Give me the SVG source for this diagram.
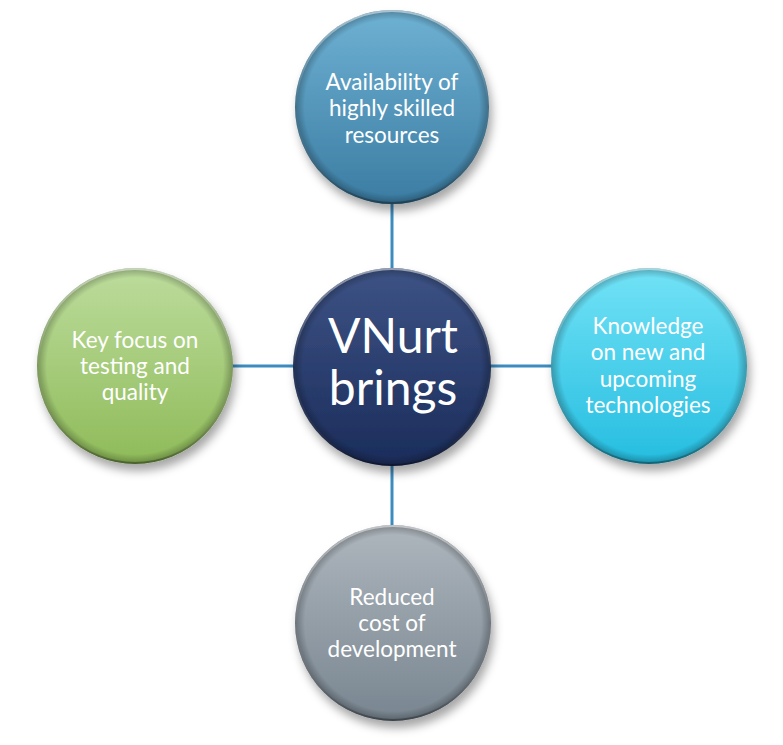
<svg xmlns="http://www.w3.org/2000/svg" width="783" height="745" viewBox="0 0 783 745">
<defs>
<linearGradient id="gTop" x1="0" y1="0" x2="0" y2="1"><stop offset="0" stop-color="#6eb1d3"/><stop offset="1" stop-color="#3b7ca2"/></linearGradient>
<linearGradient id="gCen" x1="0" y1="0" x2="0" y2="1"><stop offset="0" stop-color="#3d5385"/><stop offset="1" stop-color="#1b2c5a"/></linearGradient>
<linearGradient id="gRight" x1="0" y1="0" x2="0" y2="1"><stop offset="0" stop-color="#72e2f6"/><stop offset="1" stop-color="#25bde0"/></linearGradient>
<linearGradient id="gLeft" x1="0" y1="0" x2="0" y2="1"><stop offset="0" stop-color="#bcdc9c"/><stop offset="1" stop-color="#8fbb59"/></linearGradient>
<linearGradient id="gBot" x1="0" y1="0" x2="0" y2="1"><stop offset="0" stop-color="#aeb6bd"/><stop offset="1" stop-color="#788590"/></linearGradient>
<radialGradient id="bevel" cx="0.5" cy="0.5" r="0.5">
<stop offset="0.9" stop-color="#000" stop-opacity="0"/>
<stop offset="1" stop-color="#000" stop-opacity="0.28"/>
</radialGradient>
<linearGradient id="rim" x1="0" y1="0" x2="0" y2="1"><stop offset="0" stop-color="#fff" stop-opacity="0.5"/><stop offset="0.5" stop-color="#fff" stop-opacity="0"/><stop offset="1" stop-color="#000" stop-opacity="0.3"/></linearGradient>
<filter id="sh" x="-20%" y="-20%" width="140%" height="150%">
<feDropShadow dx="3" dy="7" stdDeviation="5" flood-color="#000" flood-opacity="0.35"/>
</filter>
</defs>
<style>
.c{filter:url(#sh)}
.bv{fill:url(#bevel)}
.rm{fill:none;stroke:url(#rim);stroke-width:2}
.t{font-family:"Lato","Liberation Sans",sans-serif;fill:#fff;text-anchor:middle;font-size:22.5px}
.big{font-size:48px}
.ln{stroke:#3d8cbf;stroke-width:3}
</style>
<g id="connectors">
<line class="ln" x1="392" y1="200" x2="392" y2="272"/>
<line class="ln" x1="228" y1="366" x2="298" y2="366"/>
<line class="ln" x1="486" y1="366" x2="555" y2="366"/>
<line class="ln" x1="392" y1="462" x2="392" y2="530"/>
</g>
<g id="node-top">
<circle class="c" cx="392" cy="107" r="97" fill="url(#gTop)"/>
<circle class="bv" cx="392" cy="107" r="97"/>
<circle class="rm" cx="392" cy="107" r="96"/>
<text class="t" x="392" y="90">Availability of</text>
<text class="t" x="392" y="116">highly skilled</text>
<text class="t" x="392" y="143">resources</text>
</g>
<g id="node-center">
<circle class="c" cx="392" cy="367" r="99" fill="url(#gCen)"/>
<circle class="bv" cx="392" cy="367" r="99"/>
<circle class="rm" cx="392" cy="367" r="98"/>
<text class="t big" x="393" y="353">VNurt</text>
<text class="t big" x="393" y="405">brings</text>
</g>
<g id="node-left">
<circle class="c" cx="135" cy="366" r="98" fill="url(#gLeft)"/>
<circle class="bv" cx="135" cy="366" r="98"/>
<circle class="rm" cx="135" cy="366" r="97"/>
<text class="t" x="135" y="348">Key focus on</text>
<text class="t" x="135" y="374">testing and</text>
<text class="t" x="135" y="400">quality</text>
</g>
<g id="node-right">
<circle class="c" cx="649" cy="366" r="98" fill="url(#gRight)"/>
<circle class="bv" cx="649" cy="366" r="98"/>
<circle class="rm" cx="649" cy="366" r="97"/>
<text class="t" x="648" y="334">Knowledge</text>
<text class="t" x="648" y="360">on new and</text>
<text class="t" x="648" y="387">upcoming</text>
<text class="t" x="648" y="413">technologies</text>
</g>
<g id="node-bottom">
<circle class="c" cx="393" cy="623" r="98" fill="url(#gBot)"/>
<circle class="bv" cx="393" cy="623" r="98"/>
<circle class="rm" cx="393" cy="623" r="97"/>
<text class="t" x="392" y="605">Reduced</text>
<text class="t" x="392" y="631">cost of</text>
<text class="t" x="392" y="657">development</text>
</g>
</svg>
